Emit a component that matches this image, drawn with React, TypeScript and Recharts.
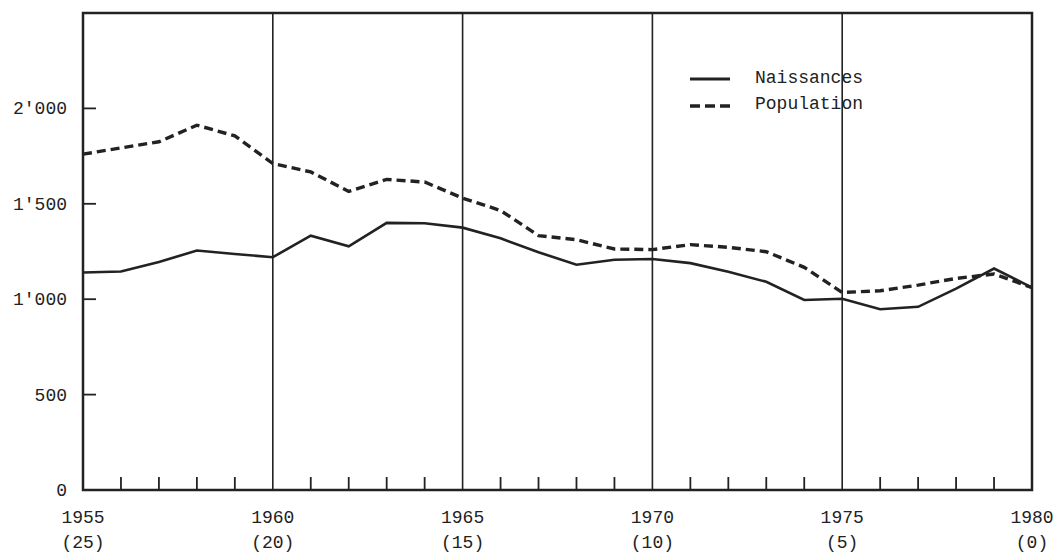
import { LineChart, Line, XAxis, YAxis, ReferenceLine, ReferenceArea } from 'recharts'

// années 1955-1980, valeurs (milliers)
const years = [
  1955, 1956, 1957, 1958, 1959, 1960, 1961, 1962, 1963, 1964, 1965, 1966, 1967,
  1968, 1969, 1970, 1971, 1972, 1973, 1974, 1975, 1976, 1977, 1978, 1979, 1980,
]
const naissances = [
  1140, 1145, 1195, 1255, 1237, 1220, 1333, 1277, 1400, 1398, 1375, 1319, 1246,
  1181, 1207, 1211, 1189, 1144, 1091, 996, 1002, 947, 960, 1055, 1161, 1061,
]
const population = [
  1760, 1793, 1825, 1912, 1856, 1711, 1667, 1565, 1628, 1614, 1530, 1465, 1333,
  1312, 1263, 1260, 1286, 1272, 1249, 1167, 1035, 1044, 1074, 1109, 1132, 1061,
]

const majorYears = [1955, 1960, 1965, 1970, 1975, 1980]
const remainLabels = ['(25)', '(20)', '(15)', '(10)', '(5)', '(0)']
const gridYears = [1960, 1965, 1970, 1975]
const yTicks = [0, 500, 1000, 1500, 2000]
const yLabels = ['0', '500', "1'000", "1'500", "2'000"]
const seriesNames = ['Naissances', 'Population']

const data = years.map((year, i) => ({ year, naissances: naissances[i], population: population[i] }))

const INK = '#222'
const FONT = '"Liberation Mono", "DejaVu Sans Mono", monospace'

function XTick({ x, y, payload }: any) {
  const v = payload.value
  const i = majorYears.indexOf(v)
  if (i < 0) {
    return <path d={`M${x},${y} L${x},${y - 13}`} stroke={INK} strokeWidth={1.8} />
  }
  return (
    <g fontFamily={FONT} fontSize={18} fill={INK}>
      <text x={x} y={y + 33} textAnchor="middle">{v}</text>
      <text x={x} y={y + 58} textAnchor="middle">{remainLabels[i]}</text>
    </g>
  )
}

function YTickLeft({ x, y, payload }: any) {
  const i = yTicks.indexOf(payload.value)
  return (
    <g>
      {payload.value > 0 && <path d={`M${x},${y} L${x + 13},${y}`} stroke={INK} strokeWidth={1.8} />}
      <text x={x - 16} y={y + 6} textAnchor="end" fontFamily={FONT} fontSize={18} fill={INK}>
        {yLabels[i]}
      </text>
    </g>
  )
}

function YTickRight({ x, y, payload }: any) {
  if (payload.value <= 0) return <g />
  return <path d={`M${x},${y} L${x - 13},${y}`} stroke={INK} strokeWidth={1.8} />
}

export default function App() {
  return (
    <div style={{ position: 'absolute', left: 0, top: 0, width: 1055, height: 555, background: '#fff' }}>
      <LineChart width={1055} height={555} data={data} margin={{ top: 13, right: 0, bottom: 0, left: 0 }}>
        <XAxis
          dataKey="year" type="number" domain={[1955, 1980]} ticks={years} interval={0}
          height={65} tickSize={0} tickMargin={0} axisLine={false} tick={<XTick />}
        />
        <YAxis
          domain={[0, 2500]} ticks={yTicks} width={83} tickSize={0} tickMargin={0}
          axisLine={false} tick={<YTickLeft />}
        />
        <YAxis
          yAxisId="r" orientation="right" domain={[0, 2500]} ticks={yTicks} width={23}
          tickSize={0} tickMargin={0} axisLine={false} tick={<YTickRight />}
        />
        {gridYears.map(yr => (
          <ReferenceLine key={yr} x={yr} stroke={INK} strokeWidth={1.6} />
        ))}
        <ReferenceArea x1={1955} x2={1980} y1={0} y2={2500} fill="none" stroke={INK} strokeWidth={2.5} />
        <Line type="linear" dataKey="naissances" stroke={INK} strokeWidth={2.6} dot={false} isAnimationActive={false} />
        <Line
          type="linear" dataKey="population" stroke={INK} strokeWidth={3.4} strokeDasharray="9 5"
          dot={false} isAnimationActive={false}
        />
      </LineChart>
      <svg width={220} height={60} style={{ position: 'absolute', left: 680, top: 60 }}>
        <path d="M10,19 L50,19" stroke={INK} strokeWidth={3} />
        <path d="M10,46 L50,46" stroke={INK} strokeWidth={3.4} strokeDasharray="10 5" />
        <g fontFamily={FONT} fontSize={18} fill={INK}>
          <text x={75} y={23}>{seriesNames[0]}</text>
          <text x={75} y={49}>{seriesNames[1]}</text>
        </g>
      </svg>
    </div>
  )
}
